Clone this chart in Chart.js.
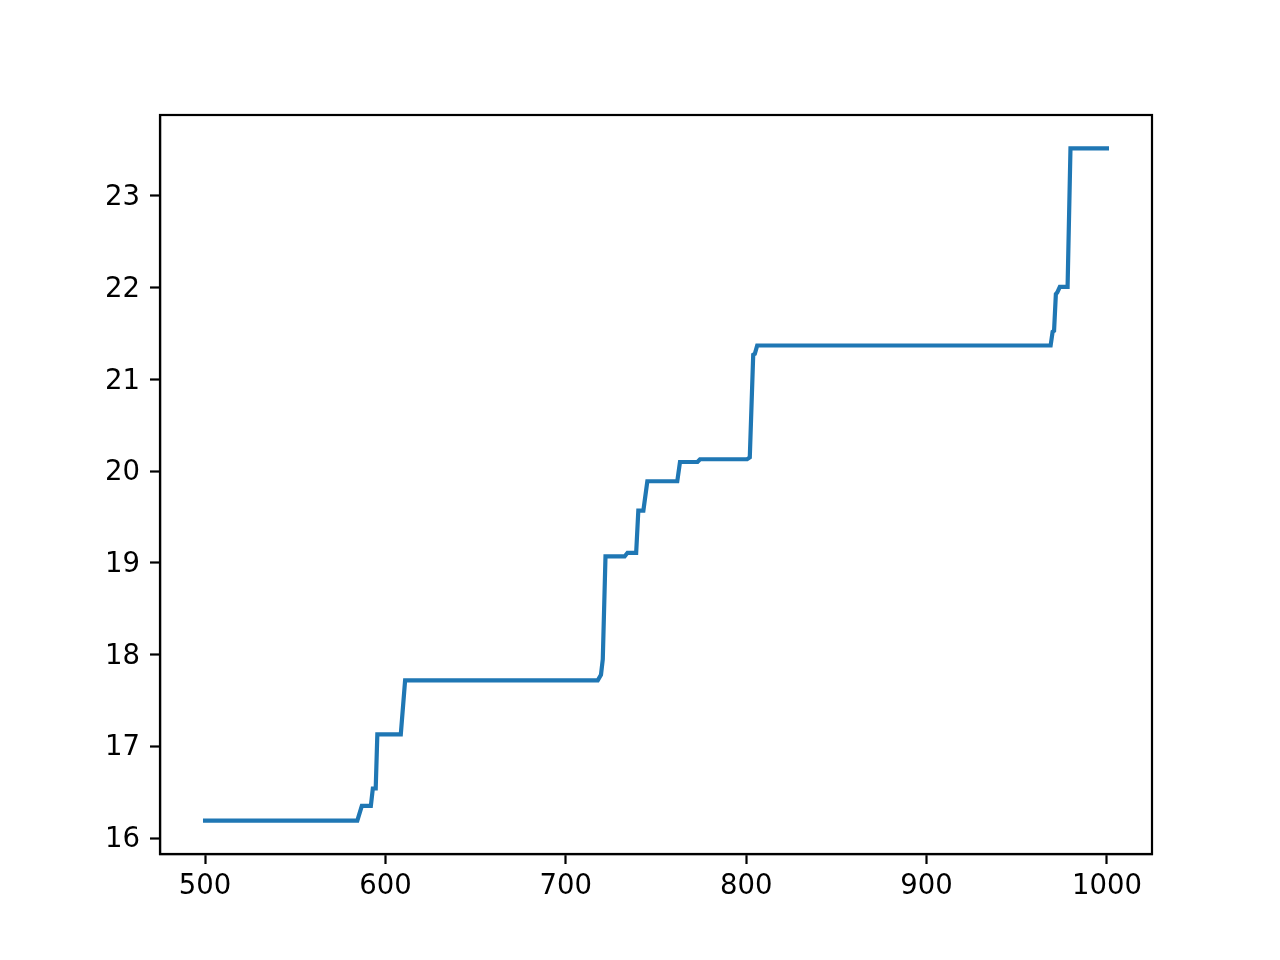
<!DOCTYPE html>
<html>
<head>
<meta charset="utf-8">
<script src="https://cdn.jsdelivr.net/npm/chart.js@4/dist/chart.umd.min.js"></script>
<style>
  html, body { margin: 0; padding: 0; background: #fff; }
  #wrap { width: 1280px; height: 960px; }
</style>
</head>
<body>
<div id="wrap"><canvas id="stepChart" width="1280" height="960"></canvas></div>
<script>
// ===== DATA =====
const xValues = [
  500, 584.4, 586.9, 591.9, 593.0, 594.6, 595.5, 608.5, 610.9,
  717.7, 719.5, 720.5, 722.0, 732.6, 734.2, 739.0, 740.2, 743.0, 745.2,
  761.8, 763.3, 773.0, 774.4, 800.5, 802.0, 803.9, 804.8, 806.1,
  968.8, 969.9, 970.7, 971.7, 972.5, 973.9, 978.2, 979.8, 1000
];
const yValues = [
  16.19, 16.19, 16.35, 16.35, 16.54, 16.54, 17.13, 17.13, 17.72,
  17.72, 17.78, 17.95, 19.07, 19.07, 19.11, 19.11, 19.57, 19.57, 19.89,
  19.89, 20.10, 20.10, 20.13, 20.13, 20.15, 21.27, 21.28, 21.37,
  21.37, 21.52, 21.53, 21.93, 21.95, 22.01, 22.01, 23.52, 23.52
];
const xTicks = [500, 600, 700, 800, 900, 1000];
const yTicks = [16, 17, 18, 19, 20, 21, 22, 23];

const points = xValues.map((x, i) => ({ x: x, y: yValues[i] }));

// ===== FRAME PLUGIN (top/right spines) =====
const frame = {
  id: "frame",
  afterDraw(chart) {
    const a = chart.chartArea;
    const c = chart.ctx;
    c.save();
    c.strokeStyle = "#000";
    c.lineWidth = 2.2;
    c.strokeRect(a.left, a.top, a.right - a.left, a.bottom - a.top);
    c.restore();
  }
};

const font = { family: "DejaVu Sans", size: 27.5 };

// ===== CHART =====
const ctx = document.getElementById("stepChart").getContext("2d");
new Chart(ctx, {
  type: "line",
  data: {
    datasets: [{
      data: points,
      borderColor: "#1f77b4",
      borderWidth: 4.2,
      borderCapStyle: "square",
      pointRadius: 0,
      tension: 0,
      fill: false
    }]
  },
  options: {
    responsive: false,
    animation: false,
    events: [],
    layout: { padding: { top: 115, right: 128, left: 0, bottom: 0 } },
    plugins: { legend: { display: false }, tooltip: { enabled: false } },
    scales: {
      x: {
        type: "linear",
        min: 475,
        max: 1025,
        afterBuildTicks: s => { s.ticks = xTicks.map(v => ({ value: v })); },
        afterFit: s => { s.height = 106; },
        grid: { drawOnChartArea: false, drawTicks: true, tickLength: 10, tickWidth: 2.2, tickColor: "#000" },
        border: { display: true, color: "#000", width: 2.2 },
        ticks: { color: "#000", font: font, padding: 6, maxRotation: 0, callback: v => String(v) }
      },
      y: {
        type: "linear",
        min: 15.826,
        max: 23.883,
        afterBuildTicks: s => { s.ticks = yTicks.map(v => ({ value: v })); },
        afterFit: s => { s.width = 160; },
        grid: { drawOnChartArea: false, drawTicks: true, tickLength: 10, tickWidth: 2.2, tickColor: "#000" },
        border: { display: true, color: "#000", width: 2.2 },
        ticks: { color: "#000", font: font, padding: 10, labelOffset: 2, callback: v => String(v) }
      }
    }
  },
  plugins: [frame]
});
</script>
</body>
</html>
